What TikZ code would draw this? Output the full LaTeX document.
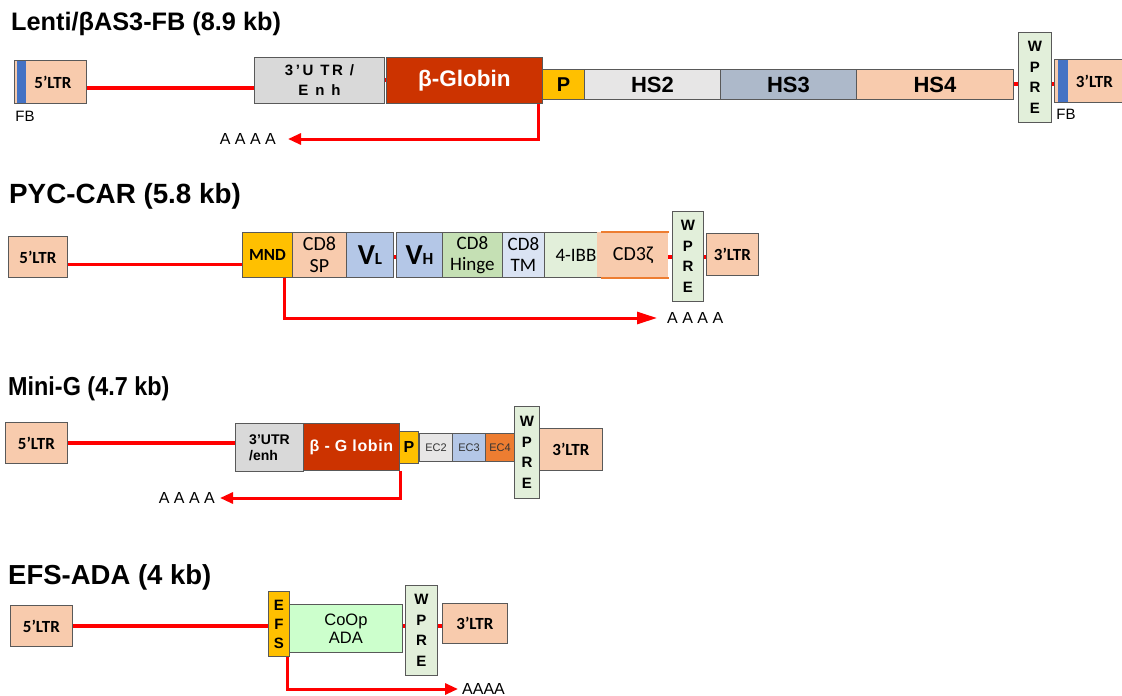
\documentclass[tikz,border=0pt]{standalone}
\usepackage{fontspec}
\setmainfont{Liberation Sans}
\newfontfamily\calfont{Carlito}
\usetikzlibrary{arrows.meta}

\definecolor{ltrfill}{HTML}{F8CBAD}
\definecolor{fbblue}{HTML}{4472C4}
\definecolor{utrgray}{HTML}{D9D9D9}
\definecolor{globred}{HTML}{CC3300}
\definecolor{promgold}{HTML}{FFC000}
\definecolor{hstwo}{HTML}{E7E6E6}
\definecolor{hsthree}{HTML}{ADB9CA}
\definecolor{wpregreen}{HTML}{E2EFDA}
\definecolor{vblue}{HTML}{B4C7E7}
\definecolor{hingegreen}{HTML}{C5E0B4}
\definecolor{tmblue}{HTML}{DAE3F3}
\definecolor{ecorange}{HTML}{ED7D31}
\definecolor{adagreen}{HTML}{CCFFCC}
\definecolor{boxline}{HTML}{595959}
\definecolor{backbone}{HTML}{FF0000}

\newcommand{\fs}[2]{\fontsize{#1}{#2}\selectfont}

\begin{document}
\begin{tikzpicture}[x=1pt, y=-1pt,
    box/.style={draw=boxline, line width=0.9pt, inner sep=0pt, align=center, anchor=north west},
    ltr/.style={box, fill=ltrfill, font=\calfont\bfseries\fs{17}{20}},
    wpre/.style={box, fill=wpregreen, font=\bfseries\fs{15}{20.5}},
    cal/.style={font=\calfont\fs{19}{21}},
    stripe/.style={fill=fbblue, inner sep=0pt, anchor=north west, minimum width=9},
    title/.style={anchor=base west, inner sep=0pt, font=\bfseries\fs{26}{30}},
    polya/.style={inner sep=0pt, font=\fs{16}{18}},
    dna/.style={draw=backbone, line width=3.5pt},
    arr/.style={draw=backbone, line width=3pt, -{Triangle[length=13pt, width=11pt]}}
]
\useasboundingbox (0,0) rectangle (1122,696);

% Lenti/bAS3-FB
\node[title, font=\bfseries\fs{25.3}{30}] (t1) at (11,30) {Lenti/βAS3-FB (8.9 kb)};
\node[ltr, minimum width=72, minimum height=43] (ltrA) at (14,60) {\hspace*{5pt}5’LTR};
\node[stripe, minimum height=42] (fbA) at (17,60.5) {};
\node[font=\fs{15}{18}] (fbAlab) at (25,116) {FB};
\node[ltr, minimum width=70, minimum height=43] (ltrB) at (1054,59) {\hspace*{10pt}3’LTR};
\node[stripe, minimum width=10, minimum height=42] (fbB) at (1058,59.5) {};
\node[font=\fs{15}{18}] (fbBlab) at (1066,114) {FB};
\draw[dna] ([yshift=-6pt]ltrA.east) -- ([yshift=-6pt]ltrA.east -| 254,0);
\draw[dna] (386,80) -- (254,80);
\draw[dna] (1013,84) -- (ltrB.west |- 0,84);
\node[box, fill=utrgray, minimum width=130, minimum height=46,
      font={\bfseries\fs{15}{20}\addfontfeature{LetterSpace=18}}] (utrA) at (254,57) {3’U TR /\\E n h};
\node[box, fill=globred, text=white, minimum width=156, minimum height=46,
      font=\bfseries\fs{22.5}{24}] (globA) at (386,57) {β-Globin};
\node[box, fill=promgold, minimum width=42, minimum height=30, font=\bfseries\fs{20}{22}] (pA) at (542,69) {P};
\node[box, fill=hstwo, minimum width=136, minimum height=30, font=\bfseries\fs{22}{24}] (hs2) at (584,69) {HS2};
\node[box, fill=hsthree, minimum width=136, minimum height=30, font=\bfseries\fs{22}{24}] (hs3) at (720,69) {HS3};
\node[box, fill=ltrfill, minimum width=157, minimum height=30, font=\bfseries\fs{22}{24}] (hs4) at (856,69) {HS4};
\node[wpre, minimum width=33, minimum height=90] (wpreA) at (1018,32) {W\\P\\R\\E};
\node[polya, anchor=east] (paA) at (276,139) {A A A A};
\coordinate (tssA) at ([xshift=-4pt]globA.south east);
\draw[arr] (tssA) |- ([xshift=12pt]paA.east);

% PYC-CAR
\node[title, font=\bfseries\fs{27.8}{30}] (t2) at (9,203) {PYC-CAR (5.8 kb)};
\node[ltr, minimum width=59, minimum height=41] (ltrC) at (8,236) {5’LTR};
\node[ltr, minimum width=52, minimum height=42] (ltrD) at (706,233) {3’LTR};
\draw[dna] ([yshift=-7.5pt]ltrC.east) -- ([yshift=-7.5pt]ltrC.east -| 242,0);
\draw[dna] (292,257) -- (ltrD.west |- 0,257);
\node[box, fill=promgold, minimum width=50, minimum height=45, font=\calfont\bfseries\fs{17}{20}] (mnd) at (242,232) {MND};
\node[box, cal, fill=ltrfill, minimum width=54, minimum height=45, font=\calfont\fs{20}{22}] (cd8sp) at (292,232) {CD8\\SP};
\node[box, cal, fill=vblue, minimum width=47, minimum height=45, font=\calfont\bfseries] (vl) at (346,232) {{\fs{29}{30}V}{\fs{17}{18}L}};
\node[box, cal, fill=vblue, minimum width=46, minimum height=45, font=\calfont\bfseries] (vh) at (396,232) {{\fs{29}{30}V}{\fs{17}{18}H}};
\node[box, cal, fill=hingegreen, minimum width=60, minimum height=45] (hinge) at (442,232) {CD8\\Hinge};
\node[box, cal, fill=tmblue, minimum width=42, minimum height=45] (tm) at (502,232) {CD8\\TM};
\node[box, cal, fill=wpregreen, minimum width=66, minimum height=45] (ibb) at (544,232) {\hspace*{-3pt}4-IBB};
\node[box, cal, draw=none, fill=ltrfill, minimum width=71, minimum height=45, font=\calfont\fs{20}{22}] (cd3z) at (597,232) {CD3ζ};
\draw[ecorange, line width=1.5pt] ([xshift=4pt]cd3z.north west) -- (cd3z.north east);
\draw[ecorange, line width=1.5pt] ([xshift=4pt]cd3z.south west) -- (cd3z.south east);
\node[wpre, minimum width=31, minimum height=90] (wpreC) at (672,211) {W\\P\\R\\E};
\node[polya, anchor=west] (paC) at (667,318) {A A A A};
\coordinate (tssC) at ([xshift=-8pt]mnd.south east);
\draw[arr, -{Triangle[length=20pt, width=12pt]}] (tssC) |- ([xshift=-10pt]paC.west);

% Mini-G
\node[title, xscale=0.9] (t3) at (8,395) {Mini-G (4.7 kb)};
\node[ltr, minimum width=62, minimum height=41] (ltrE) at (5,422) {5’LTR};
\node[ltr, minimum width=63, minimum height=42] (ltrF) at (539,428) {3’LTR};
\draw[dna] (ltrE.east) -- (ltrE.east -| 235,0);
\node[box, fill=utrgray, minimum width=68, minimum height=48, align=left, font=\bfseries\fs{14}{16}] (utrE) at (235,423) {3’UTR\\/enh};
\node[box, fill=globred, text=white, minimum width=96, minimum height=47,
      font={\bfseries\fs{16}{18}\addfontfeature{LetterSpace=4}}] (globE) at (303,423) {β - G lobin};
\node[box, fill=promgold, minimum width=19, minimum height=32, font=\bfseries\fs{16}{18}] (pE) at (399,431) {P};
\node[box, fill=hstwo, minimum width=33, minimum height=28, text=black!80, font=\fs{11}{13}] (ec2) at (419,433) {EC2};
\node[box, fill=vblue, minimum width=33, minimum height=28, text=black!80, font=\fs{11}{13}] (ec3) at (452,433) {EC3};
\node[box, fill=ecorange, minimum width=29, minimum height=28, text=black!80, font=\fs{11}{13}] (ec4) at (485,433) {EC4};
\node[wpre, minimum width=25, minimum height=92] (wpreE) at (514,406) {W\\P\\R\\E};
\node[polya, anchor=east] (paE) at (215,498) {A A A A};
\coordinate (tssE) at ([xshift=1pt]globE.south east);
\draw[arr] (tssE) |- ([xshift=5pt]paE.east);

% EFS-ADA
\node[title, font=\bfseries\fs{27.5}{30}] (t4) at (8,584) {EFS-ADA (4 kb)};
\node[ltr, minimum width=62, minimum height=41] (ltrG) at (10,605) {5’LTR};
\node[ltr, minimum width=65, minimum height=40] (ltrH) at (442,603) {3’LTR};
\draw[dna] (ltrG.east) -- (ltrG.east -| ltrH.west);
\node[box, fill=promgold, minimum width=21, minimum height=65, font=\bfseries\fs{15}{19}] (efs) at (268,591) {E\\F\\S};
\node[box, fill=adagreen, minimum width=113, minimum height=48, font=\fs{16.5}{18}] (coop) at (289,604) {CoOp\\ADA};
\node[wpre, minimum width=32, minimum height=90] (wpreG) at (405,585) {W\\P\\R\\E};
\node[polya, anchor=west] (paG) at (462,689) {AAAA};
\coordinate (tssG) at ([xshift=-2pt]efs.south east);
\draw[arr] (tssG) |- ([xshift=-4pt]paG.west);
\end{tikzpicture}
\end{document}
